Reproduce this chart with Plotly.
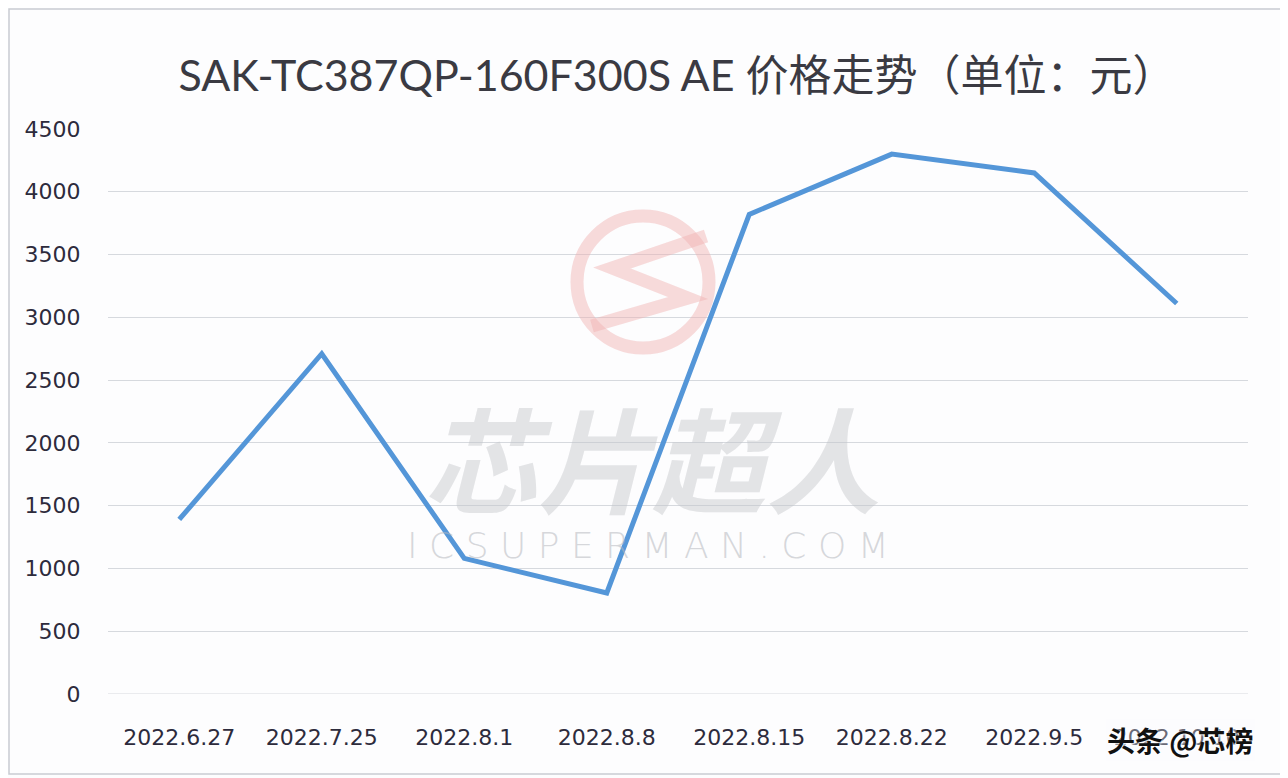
import plotly.graph_objects as go

dates = ["2022.6.27", "2022.7.25", "2022.8.1", "2022.8.8", "2022.8.15", "2022.8.22", "2022.9.5", "2022.10.10"]
prices = [1390, 2710, 1080, 805, 3820, 4300, 4150, 3110]
y_ticks = [0, 500, 1000, 1500, 2000, 2500, 3000, 3500, 4000, 4500]

# page body has an 8px margin, so the figure starts at (8, 8)
OFF = 8
W, H = 1288 - OFF, 778 - OFF
L, R, T, B = 108 - OFF, 40, 129 - OFF, 84
pw, ph = W - L - R, H - T - B

def px(x):  # page pixel x -> paper
    return (x - OFF - L) / pw

def py(y):  # page pixel y -> paper
    return (H - B - (y - OFF)) / ph

fig = go.Figure()
fig.add_trace(go.Scatter(
    x=dates, y=prices, mode="lines",
    line=dict(color="#5496d8", width=5),
    hoverinfo="x+y", showlegend=False,
))

tick_font = dict(family="DejaVu Sans, sans-serif", size=22, color="#2d2b3c")

fig.update_layout(
    width=W, height=H,
    margin=dict(l=L, r=R, t=T, b=B),
    paper_bgcolor="#fdfdfe",
    plot_bgcolor="#fdfdfe",
    title=dict(
        text="SAK-TC387QP-160F300S AE 价格走势（单位：元）",
        x=px(677), xanchor="center", xref="paper",
        y=1 - (76 - OFF) / H, yanchor="middle", yref="container",
        font=dict(family="Lato, Noto Sans CJK SC, sans-serif", size=43, color="#3a3a42"),
    ),
    xaxis=dict(
        type="category", categoryorder="array", categoryarray=dates,
        range=[-0.5, len(dates) - 0.5],
        showgrid=False, zeroline=False, showline=False,
        ticks="outside", ticklen=24, tickcolor="rgba(0,0,0,0)",
        tickfont=tick_font, fixedrange=True,
    ),
    yaxis=dict(
        range=[0, 4500], tickvals=y_ticks,
        showgrid=True, gridcolor="#d6d9de", gridwidth=1,
        zeroline=False, showline=False,
        ticks="outside", ticklen=22, tickcolor="rgba(0,0,0,0)",
        tickfont=tick_font, fixedrange=True,
    ),
)

# bottom baseline grid line
fig.add_shape(type="line", xref="paper", yref="y", x0=0, x1=1, y0=0, y1=0,
              line=dict(color="#d6d9de", width=1), layer="below")

# outer frame of the picture
fig.add_shape(type="rect", xref="paper", yref="paper",
              x0=px(9), x1=px(1284), y0=py(774), y1=py(9),
              line=dict(color="#c9ccd2", width=1.5), fillcolor="rgba(0,0,0,0)")

# watermark logo (pale red ring with zigzag)
cx, cy, r = 643, 282, 66
fig.add_shape(type="circle", xref="paper", yref="paper",
              x0=px(cx - r), x1=px(cx + r), y0=py(cy + r), y1=py(cy - r),
              line=dict(color="rgba(240,175,175,0.45)", width=13), layer="above")
zig = [(706, 236), (612, 268), (688, 298), (592, 326)]
path = "M " + " L ".join(f"{px(x)},{py(y)}" for x, y in zig)
fig.add_shape(type="path", xref="paper", yref="paper", path=path,
              line=dict(color="rgba(240,175,175,0.45)", width=13), layer="above")

# watermark texts
fig.add_annotation(text="<b><i>芯片超人</i></b>", xref="paper", yref="paper",
                   x=px(652), y=py(455), xanchor="center", yanchor="middle", showarrow=False,
                   font=dict(family="Noto Sans CJK SC", size=114, color="rgba(196,198,202,0.45)"))
fig.add_annotation(text="I C S U P E R M A N . C O M", xref="paper", yref="paper",
                   x=px(648), y=py(545), xanchor="center", yanchor="middle", showarrow=False,
                   font=dict(family="DejaVu Sans, sans-serif", size=36, weight=300,
                             color="rgba(180,183,189,0.55)"))
fig.add_annotation(text="<b>头条 @芯榜</b>", xref="paper", yref="paper",
                   x=px(1180), y=py(740), xanchor="center", yanchor="middle", showarrow=False,
                   font=dict(family="Noto Sans CJK SC", size=28, color="#111111",
                             shadow="1px 1px 2px #ffffff"),
                   bgcolor="rgba(253,253,254,0.3)")

fig.write_html("out.html")
